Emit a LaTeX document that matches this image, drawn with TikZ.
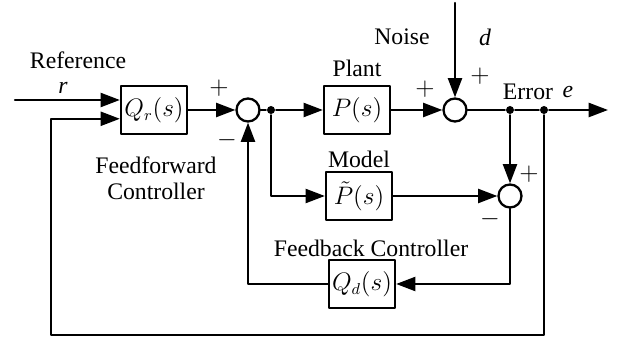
\documentclass[tikz,border=0pt]{standalone}
\usepackage{fontspec}
\setmainfont{Liberation Serif}
\usetikzlibrary{arrows.meta}
\begin{document}
\begin{tikzpicture}[x=0.02cm,y=-0.02cm,line join=round,line cap=round,>={Triangle[length=11pt,width=8pt]},line width=1.3pt]
	\tikzset{every node/.style={font=\fontsize{13.5}{15}\selectfont,inner sep=1pt},
		blk/.style={draw,fill=white,minimum width=1.32cm,minimum height=0.96cm,inner sep=0pt},
		sum/.style={draw,circle,fill=white,minimum size=0.46cm,inner sep=0pt},
		dot/.style={circle,fill,minimum size=0.16cm,inner sep=0pt}}
	\useasboundingbox (0,0) rectangle (628,340);
	% blocks and junctions
	\node[blk] (qr) at (154,110) {$Q_r(s)$};
	\node[blk] (p) at (357,110) {$P(s)$};
	\node[blk] (pt) at (359,196) {$\tilde{P}(s)$};
	\node[blk] (qd) at (362,284) {$Q_d(s)$};
	\node[sum] (s1) at (248,110) {};
	\node[sum] (s2) at (455,110) {};
	\node[sum] (s3) at (510,196) {};
	\node[dot] (b1) at (271,110) {};
	\node[dot] (b2) at (510,110) {};
	\node[dot] (b3) at (544,110) {};
	\coordinate (in) at (15,100);
	\coordinate (nz) at (455,3);
	\coordinate (out) at (608,110);
	\coordinate (fb) at (51,335);
	% forward path
	\draw[->] (in) -- (in -| qr.west);
	\draw[->] (qr) -- (s1);
	\draw (s1) -- (b1);
	\draw[->] (b1) -- (p);
	\draw[->] (p) -- (s2);
	\draw[->] (nz) -- (s2);
	\draw (s2) -- (b2) -- (b3);
	\draw[->] (b3) -- (out);
	% model and feedback loops
	\draw[->] (b1) |- (pt);
	\draw[->] (pt) -- (s3);
	\draw[->] (b2) -- (s3);
	\draw[->] (s3) |- (qd);
	\draw[->] (qd) -| (s1);
	\draw[->] (b3) |- (fb) |- ([yshift=-5pt]qr.west);
	% labels
	\node (lref) at (78,60) {Reference};
	\node (lr) at (63,88) {\textit{r}};
	\node[align=center] (lff) at (156,178) {Feedforward\\Controller};
	\node (ls1p) at (219,88) {$+$};
	\node (ls1m) at (227,140) {$-$};
	\node (lplant) at (357,68) {Plant};
	\node (lmodel) at (359,159) {Model};
	\node (lnoise) at (402,37) {Noise};
	\node (ld) at (485,37) {\textit{d}};
	\node (ls2p) at (425,89) {$+$};
	\node (ls2q) at (480,76) {$+$};
	\node (lerr) at (528,92) {Error};
	\node (le) at (568,92) {\textit{e}};
	\node (ls3p) at (529,174) {$+$};
	\node (ls3m) at (490,219) {$-$};
	\node (lfb) at (371,248) {Feedback Controller};
\end{tikzpicture}
\end{document}
